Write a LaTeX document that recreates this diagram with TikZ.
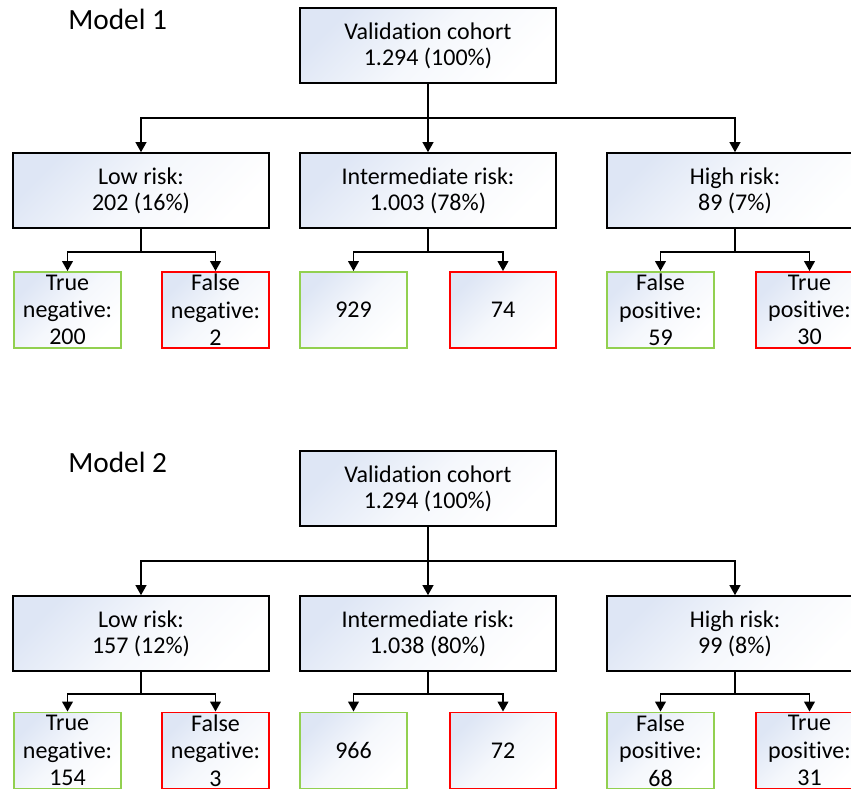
\documentclass[tikz,border=0pt]{standalone}
\usepackage{fontspec}
\setmainfont{Carlito}[Ligatures=NoCommon]
\usetikzlibrary{calc}
\usetikzlibrary{arrows.meta}
\usetikzlibrary{positioning}
\definecolor{boxblue}{RGB}{222,230,245}
\definecolor{okgreen}{RGB}{146,208,80}
\definecolor{badred}{RGB}{255,0,0}
\tikzset{group/.style={rectangle,draw=black,line width=1.4pt,top color=boxblue,bottom color=white,middle color=boxblue!30!white,shading angle=45,minimum width=192pt,minimum height=56pt,align=center,inner sep=0pt,font=\fontsize{18}{19.5}\selectfont}}
\tikzset{leaf/.style={group,minimum width=80pt,minimum height=57pt,font=\fontsize{18}{20.5}\selectfont}}
\tikzset{okleaf/.style={leaf,draw=okgreen}}
\tikzset{badleaf/.style={leaf,draw=badred}}
\tikzset{link/.style={line width=1.4pt,-{Triangle[length=7.5pt,width=8pt]}}}
\tikzset{title/.style={anchor=base west,inner sep=0pt,font=\fontsize{22}{26}\selectfont}}

\begin{document}
\begin{tikzpicture}[x=0.75pt,y=-0.75pt]
\useasboundingbox (0,0) rectangle (851,791);
\clip (0,0) rectangle (851,791);

% Model 1
\node[title] (lab1) at (68,30) {Model 1};
\node[group] (top1) at (428,45.5) {Validation cohort\\1.294 (100\%)};
\node[group] (low1) at (141,190.5) {Low risk:\\202 (16\%)};
\node[group] (mid1) at (428,190.5) {Intermediate risk:\\1.003 (78\%)};
\node[group] (high1) at (735,190.5) {High risk:\\89 (7\%)};
\node[okleaf] (tn1) at (67.5,310) {True\\negative:\\200};
\node[badleaf] (fn1) at (215.5,310) {False\\negative:\\2};
\node[okleaf] (mtn1) at (353.5,310) {929};
\node[badleaf] (mfn1) at (503,310) {74};
\node[okleaf] (fp1) at (660.5,310) {False\\positive:\\59};
\node[badleaf] (tp1) at (809.5,310) {True\\positive:\\30};
 \draw[link] (top1.south) -- (top1.south |- mid1.north);
 \draw[link] (top1.south) -- ++(0,34) -| (low1.north);
 \draw[link] (top1.south) -- ++(0,34) -| (high1.north);
 \draw[link] (low1.south) -- ++(0,23) -| (tn1.north);
 \draw[link] (low1.south) -- ++(0,23) -| (fn1.north);
 \draw[link] (mid1.south) -- ++(0,23) -| (mtn1.north);
 \draw[link] (mid1.south) -- ++(0,23) -| (mfn1.north);
 \draw[link] (high1.south) -- ++(0,23) -| (fp1.north);
 \draw[link] (high1.south) -- ++(0,23) -| (tp1.north);

% Model 2
\node[title] (lab2) at (68,473) {Model 2};
\node[group] (top2) at (428,488.5) {Validation cohort\\1.294 (100\%)};
\node[group] (low2) at (141,633.5) {Low risk:\\157 (12\%)};
\node[group] (mid2) at (428,633.5) {Intermediate risk:\\1.038 (80\%)};
\node[group] (high2) at (735,633.5) {High risk:\\99 (8\%)};
\node[okleaf] (tn2) at (67.5,750.5) {True\\negative:\\154};
\node[badleaf] (fn2) at (215.5,750.5) {False\\negative:\\3};
\node[okleaf] (mtn2) at (353.5,750.5) {966};
\node[badleaf] (mfn2) at (503,750.5) {72};
\node[okleaf] (fp2) at (660.5,750.5) {False\\positive:\\68};
\node[badleaf] (tp2) at (809.5,750.5) {True\\positive:\\31};
 \draw[link] (top2.south) -- (top2.south |- mid2.north);
 \draw[link] (top2.south) -- ++(0,34) -| (low2.north);
 \draw[link] (top2.south) -- ++(0,34) -| (high2.north);
 \draw[link] (low2.south) -- ++(0,22) -| (tn2.north);
 \draw[link] (low2.south) -- ++(0,22) -| (fn2.north);
 \draw[link] (mid2.south) -- ++(0,22) -| (mtn2.north);
 \draw[link] (mid2.south) -- ++(0,22) -| (mfn2.north);
 \draw[link] (high2.south) -- ++(0,22) -| (fp2.north);
 \draw[link] (high2.south) -- ++(0,22) -| (tp2.north);
\end{tikzpicture}
\end{document}
